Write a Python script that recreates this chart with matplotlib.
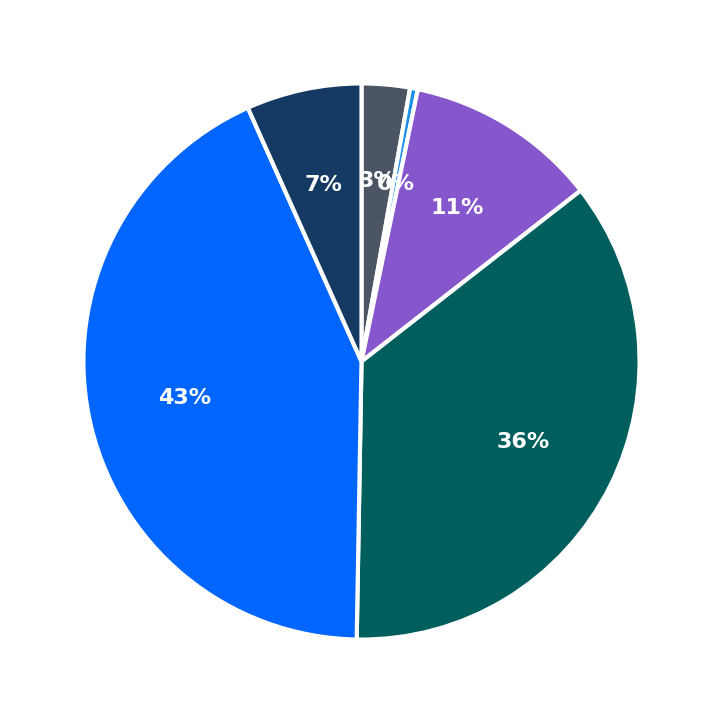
import matplotlib
matplotlib.use("Agg")
import matplotlib.pyplot as plt

labels = ["A", "B", "C", "D", "E", "F"]
values = [2.8, 0.45, 11.2, 35.8, 43.0, 6.7]
colors = ["#4b5563", "#1a8fe8", "#8556cc", "#005f5c", "#0066ff", "#143a63"]

fig = plt.figure(figsize=(7.23, 7.23), dpi=100)
ax = fig.add_axes([0, 0, 1, 1])
wedges, texts, autotexts = ax.pie(values, colors=colors, startangle=90, counterclock=False,
       autopct='%.0f%%', pctdistance=0.65,
       wedgeprops=dict(edgecolor="white", linewidth=3),
       textprops=dict(color="white", fontsize=16, fontweight="bold"))
ax.set_xlim(-1.30, 1.30)
ax.set_ylim(-1.30, 1.30)
ax.set_aspect("equal")
ax.axis("off")
fig.savefig("out.png", dpi=100, facecolor="white")
